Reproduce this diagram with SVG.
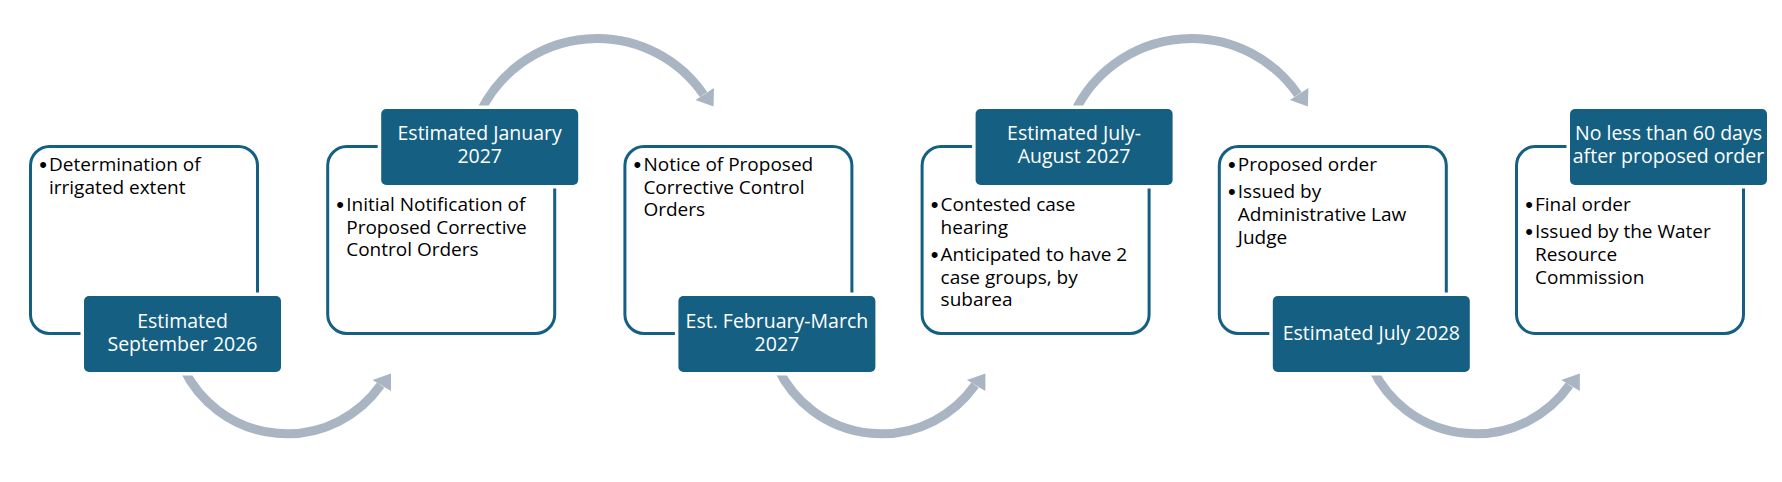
<svg xmlns="http://www.w3.org/2000/svg" width="1782" height="482" viewBox="0 0 1782 482">
<style>
.box{fill:#fff;stroke:#156082;stroke-width:3}
.lbl{fill:#156082;stroke:#fff;stroke-width:7;paint-order:stroke}
.t{font-family:"Open Sans","Liberation Sans",sans-serif;font-size:19px;fill:#000}
.b{font-family:"Liberation Sans","Open Sans",sans-serif;font-size:22px;fill:#000;text-anchor:middle}
.lt{font-family:"Open Sans","Liberation Sans",sans-serif;font-size:19.5px;fill:#fff;text-anchor:middle}
.arc{fill:none;stroke:#a9b5c2;stroke-width:9}
.head{fill:#a9b5c2}
</style>
<defs>
<g id="topArrow">
<path class="arc" d="M480.3 112 A129.4 129.4 0 0 1 703.5 94.5"/>
<polygon class="head" points="695.5,100 714,88 713.5,106.5"/>
</g>
<g id="botArrow">
<path class="arc" d="M183.4 368 A114.5 114.5 0 0 0 380.6 385.2"/>
<polygon class="head" points="372.5,380 391,391 391,373.5"/>
</g>
</defs>
<g id="connectors">
<use href="#botArrow"/>
<use href="#botArrow" transform="translate(594.4,0)"/>
<use href="#botArrow" transform="translate(1188.8,0)"/>
<use href="#topArrow"/>
<use href="#topArrow" transform="translate(594.4,0)"/>
</g>
<g id="node1" transform="translate(29,0)">
<rect class="box" x="1.5" y="146.5" width="227" height="187" rx="19"/>
<text class="b" x="14" y="171.5">•</text>
<text class="t" x="20" y="171">Determination of<tspan x="20" dy="22.7">irrigated extent</tspan></text>
<rect class="lbl" x="55" y="296" width="197" height="76" rx="5"/>
<text class="lt" x="153.5" y="328">Estimated<tspan x="153.5" dy="23">September 2026</tspan></text>
</g>
<g id="node2" transform="translate(326.2,0)">
<rect class="box" x="1.5" y="146.5" width="227" height="187" rx="19"/>
<text class="b" x="14" y="211.5">•</text>
<text class="t" x="20" y="211">Initial Notification of<tspan x="20" dy="22.7">Proposed Corrective</tspan><tspan x="20" dy="22.7">Control Orders</tspan></text>
<rect class="lbl" x="55" y="109" width="197" height="76" rx="5"/>
<text class="lt" x="153.5" y="140">Estimated January<tspan x="153.5" dy="23">2027</tspan></text>
</g>
<g id="node3" transform="translate(623.4,0)">
<rect class="box" x="1.5" y="146.5" width="227" height="187" rx="19"/>
<text class="b" x="14" y="171.5">•</text>
<text class="t" x="20" y="171">Notice of Proposed<tspan x="20" dy="22.7">Corrective Control</tspan><tspan x="20" dy="22.7">Orders</tspan></text>
<rect class="lbl" x="55" y="296" width="197" height="76" rx="5"/>
<text class="lt" x="153.5" y="328">Est. February-March<tspan x="153.5" dy="23">2027</tspan></text>
</g>
<g id="node4" transform="translate(920.6,0)">
<rect class="box" x="1.5" y="146.5" width="227" height="187" rx="19"/>
<text class="b" x="14" y="211.5">•</text>
<text class="t" x="20" y="211">Contested case<tspan x="20" dy="22.7">hearing</tspan></text>
<text class="b" x="14" y="261.5">•</text>
<text class="t" x="20" y="261">Anticipated to have 2<tspan x="20" dy="22.7">case groups, by</tspan><tspan x="20" dy="22.7">subarea</tspan></text>
<rect class="lbl" x="55" y="109" width="197" height="76" rx="5"/>
<text class="lt" x="153.5" y="140">Estimated July-<tspan x="153.5" dy="23">August 2027</tspan></text>
</g>
<g id="node5" transform="translate(1217.8,0)">
<rect class="box" x="1.5" y="146.5" width="227" height="187" rx="19"/>
<text class="b" x="14" y="171.5">•</text>
<text class="t" x="20" y="171">Proposed order</text>
<text class="b" x="14" y="198.8">•</text>
<text class="t" x="20" y="198.3">Issued by<tspan x="20" dy="22.7">Administrative Law</tspan><tspan x="20" dy="22.7">Judge</tspan></text>
<rect class="lbl" x="55" y="296" width="197" height="76" rx="5"/>
<text class="lt" x="153.5" y="340">Estimated July 2028</text>
</g>
<g id="node6" transform="translate(1515,0)">
<rect class="box" x="1.5" y="146.5" width="227" height="187" rx="19"/>
<text class="b" x="14" y="211.5">•</text>
<text class="t" x="20" y="211">Final order</text>
<text class="b" x="14" y="238.8">•</text>
<text class="t" x="20" y="238.3">Issued by the Water<tspan x="20" dy="22.7">Resource</tspan><tspan x="20" dy="22.7">Commission</tspan></text>
<rect class="lbl" x="55" y="109" width="197" height="76" rx="5"/>
<text class="lt" x="153.5" y="140">No less than 60 days<tspan x="153.5" dy="23">after proposed order</tspan></text>
</g>
</svg>
